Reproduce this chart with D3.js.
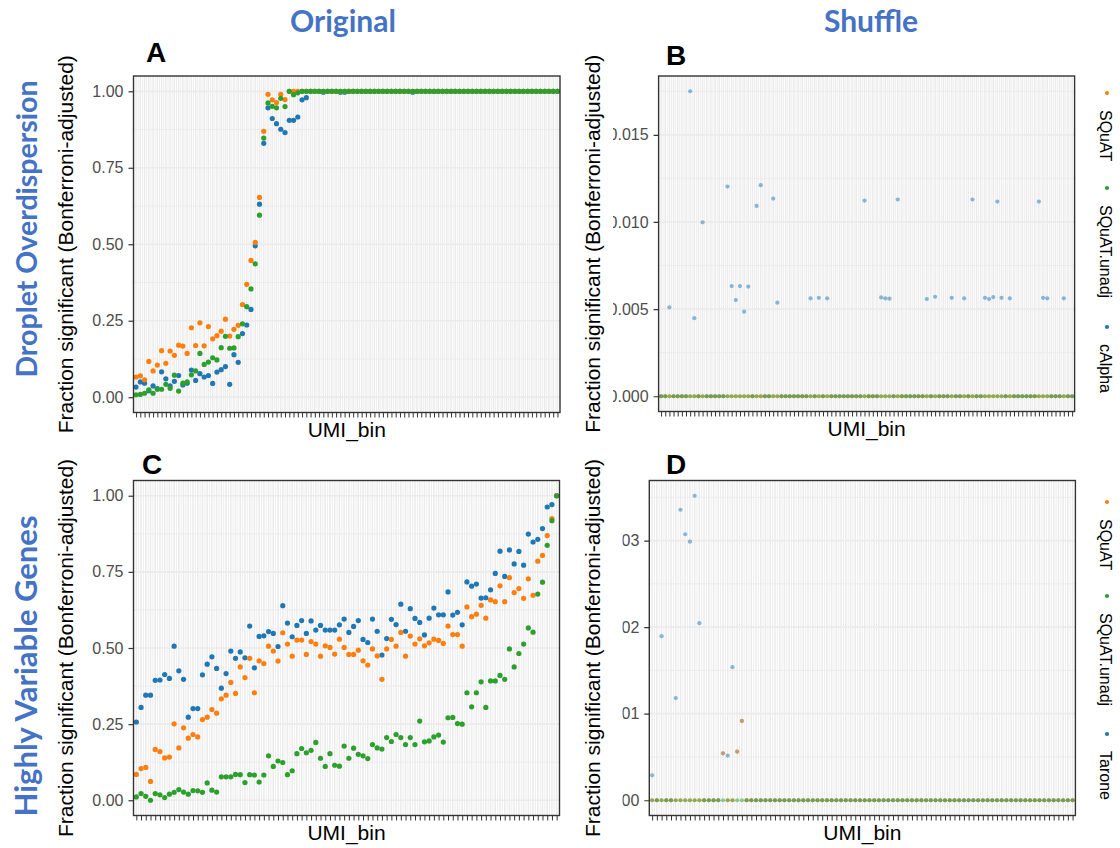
<!DOCTYPE html>
<html>
<head>
<meta charset="utf-8">
<script src="https://cdn.jsdelivr.net/npm/d3@7"></script>
<style>
  body { margin: 0; background: #fff; }
  svg { display: block; }
</style>
</head>
<body>
<svg id="fig" width="1120" height="848"></svg>
<script>
// ---- x categories (UMI bins) ----
const umiBinsDroplet = d3.range(1, 101);   // 100 bins, droplet overdispersion
const umiBinsHVG = d3.range(1, 91);        // 90 bins, highly variable genes

// ---- series names / colours ----
const methodsDroplet = ["SQuAT", "SQuAT.unadj", "cAlpha"];
const methodsHVG = ["SQuAT", "SQuAT.unadj", "Tarone"];
const methodColors = { "SQuAT": "#ff7f0e", "SQuAT.unadj": "#2ca02c", "cAlpha": "#1f77b4", "Tarone": "#1f77b4" };

// ---- tick labels ----
const yTicksFraction = [0, 0.25, 0.5, 0.75, 1];
const yTicksDropletShuffle = [0, 0.005, 0.010, 0.015];
const yTicksHVGShuffle = [0, 0.01, 0.02, 0.03];

// ---- A: droplet overdispersion, original ----
const dropletOrigSQuAT = [
  0.066, 0.070, 0.057, 0.117, 0.086, 0.105, 0.152, 0.111, 0.151, 0.137,
  0.170, 0.167, 0.143, 0.227, 0.169, 0.243, 0.168, 0.231, 0.191, 0.201,
  0.216, 0.255, 0.200, 0.222, 0.235, 0.303, 0.369, 0.447, 0.506, 0.653,
  0.869, 0.990, 0.972, 0.963, 0.990, 0.973, 1, 1, 1, 1,
  1, 1, 1, 1, 1, 1, 1, 1, 1, 1,
  1, 1, 1, 1, 1, 1, 1, 1, 1, 1,
  1, 1, 1, 1, 1, 1, 1, 1, 1, 1,
  1, 1, 1, 1, 1, 1, 1, 1, 1, 1,
  1, 1, 1, 1, 1, 1, 1, 1, 1, 1,
  1, 1, 1, 1, 1, 1, 1, 1, 1, 1
];
const dropletOrigSQuATunadj = [
  0.008, 0.009, 0.013, 0.024, 0.013, 0.026, 0.026, 0.042, 0.029, 0.072,
  0.020, 0.046, 0.050, 0.073, 0.086, 0.143, 0.107, 0.115, 0.129, 0.122,
  0.162, 0.199, 0.160, 0.161, 0.198, 0.240, 0.296, 0.354, 0.436, 0.595,
  0.847, 0.962, 0.951, 0.946, 0.977, 0.950, 1, 0.989, 0.995, 1,
  1, 1, 1, 1, 1, 1, 1, 1, 1, 1,
  1, 1, 1, 1, 1, 1, 1, 1, 1, 1,
  1, 1, 1, 1, 1, 1, 1, 1, 1, 1,
  1, 1, 1, 1, 1, 1, 1, 1, 1, 1,
  1, 1, 1, 1, 1, 1, 1, 1, 1, 1,
  1, 1, 1, 1, 1, 1, 1, 1, 1, 1
];
const dropletOrigCAlpha = [
  0.033, 0.050, 0.046, 0.021, 0.037, 0.028, 0.083, 0.060, 0.037, 0.052,
  0.071, 0.040, 0.046, 0.089, 0.055, 0.077, 0.066, 0.071, 0.045, 0.082,
  0.090, 0.100, 0.042, 0.139, 0.114, 0.208, 0.236, 0.287, 0.495, 0.631,
  0.830, 0.946, 0.911, 0.894, 0.876, 0.865, 0.905, 0.905, 0.916, 0.972,
  0.979, 1, 1, 1, 0.997, 1, 1, 1, 0.997, 0.997,
  1, 1, 1, 1, 1, 1, 1, 1, 1, 1,
  1, 1, 1, 1, 1, 0.997, 1, 1, 1, 1,
  1, 1, 1, 1, 1, 1, 1, 1, 1, 1,
  1, 1, 1, 1, 1, 1, 1, 1, 1, 1,
  1, 1, 1, 1, 1, 1, 1, 1, 1, 1
];

// ---- B: droplet overdispersion, shuffled ----
const dropletShufSQuAT = [
  0, 0, 0, 0, 0, 0, 0, 0, 0, 0,
  0, 0, 0, 0, 0, 0, 0, 0, 0, 0,
  0, 0, 0, 0, 0, 0, 0, 0, 0, 0,
  0, 0, 0, 0, 0, 0, 0, 0, 0, 0,
  0, 0, 0, 0, 0, 0, 0, 0, 0, 0,
  0, 0, 0, 0, 0, 0, 0, 0, 0, 0,
  0, 0, 0, 0, 0, 0, 0, 0, 0, 0,
  0, 0, 0, 0, 0, 0, 0, 0, 0, 0,
  0, 0, 0, 0, 0, 0, 0, 0, 0, 0,
  0, 0, 0, 0, 0, 0, 0, 0, 0, 0
];
const dropletShufSQuATunadj = [
  0, 0, 0, 0, 0, 0, 0, 0, 0, 0,
  0, 0, 0, 0, 0, 0, 0, 0, 0, 0,
  0, 0, 0, 0, 0, 0, 0, 0, 0, 0,
  0, 0, 0, 0, 0, 0, 0, 0, 0, 0,
  0, 0, 0, 0, 0, 0, 0, 0, 0, 0,
  0, 0, 0, 0, 0, 0, 0, 0, 0, 0,
  0, 0, 0, 0, 0, 0, 0, 0, 0, 0,
  0, 0, 0, 0, 0, 0, 0, 0, 0, 0,
  0, 0, 0, 0, 0, 0, 0, 0, 0, 0,
  0, 0, 0, 0, 0, 0, 0, 0, 0, 0
];
const dropletShufCAlpha = [
  0, 0, 0.0051, 0, 0, 0, 0, 0.0175, 0.00448, 0,
  0.00998, 0, 0, 0, 0, 0, 0.01203, 0.00632, 0.00552, 0.00632,
  0.00485, 0.00629, 0, 0.01092, 0.01211, 0, 0, 0.01134, 0.00537, 0,
  0, 0, 0, 0, 0, 0, 0.00562, 0, 0.00565, 0,
  0.00562, 0, 0, 0, 0, 0, 0, 0, 0, 0.01123,
  0, 0, 0, 0.00567, 0.00562, 0.0056, 0, 0.01129, 0, 0,
  0, 0, 0, 0, 0.00558, 0, 0.00571, 0, 0, 0,
  0.00565, 0, 0, 0.00562, 0, 0.01129, 0, 0, 0.00565, 0.00558,
  0.00569, 0.01117, 0.00565, 0, 0.00562, 0, 0, 0, 0, 0,
  0, 0.01117, 0.00565, 0.00562, 0, 0, 0, 0.00562, 0, 0
];

// ---- C: highly variable genes, original ----
const hvgOrigSQuAT = [
  0.085, 0.104, 0.108, 0.062, 0.167, 0.160, 0.139, 0.142, 0.251, 0.172,
  0.238, 0.204, 0.216, 0.208, 0.265, 0.273, 0.298, 0.286, 0.333, 0.345,
  0.387, 0.351, 0.438, 0.403, 0.466, 0.353, 0.458, 0.449, 0.506, 0.490,
  0.457, 0.550, 0.513, 0.473, 0.526, 0.526, 0.479, 0.521, 0.513, 0.473,
  0.507, 0.502, 0.480, 0.529, 0.502, 0.479, 0.479, 0.493, 0.458, 0.444,
  0.497, 0.474, 0.397, 0.497, 0.528, 0.506, 0.551, 0.473, 0.539, 0.513,
  0.530, 0.507, 0.517, 0.529, 0.525, 0.515, 0.572, 0.544, 0.544, 0.506,
  0.635, 0.603, 0.611, 0.640, 0.598, 0.658, 0.652, 0.704, 0.652, 0.731,
  0.682, 0.695, 0.663, 0.727, 0.673, 0.785, 0.804, 0.869, 0.925, 1.000
];
const hvgOrigSQuATunadj = [
  0.011, 0.022, 0.013, 0.000, 0.022, 0.018, 0.009, 0.020, 0.026, 0.035,
  0.027, 0.020, 0.032, 0.031, 0.026, 0.057, 0.033, 0.027, 0.077, 0.077,
  0.077, 0.085, 0.084, 0.058, 0.084, 0.083, 0.060, 0.083, 0.146, 0.111,
  0.129, 0.124, 0.084, 0.097, 0.153, 0.170, 0.156, 0.164, 0.190, 0.138,
  0.111, 0.153, 0.115, 0.112, 0.178, 0.138, 0.171, 0.151, 0.146, 0.137,
  0.183, 0.172, 0.168, 0.206, 0.193, 0.216, 0.206, 0.183, 0.206, 0.183,
  0.260, 0.192, 0.195, 0.208, 0.214, 0.191, 0.271, 0.272, 0.252, 0.250,
  0.353, 0.307, 0.353, 0.389, 0.305, 0.392, 0.392, 0.410, 0.397, 0.497,
  0.438, 0.482, 0.513, 0.566, 0.552, 0.677, 0.716, 0.837, 0.918, 1.000
];
const hvgOrigTarone = [
  0.257, 0.305, 0.345, 0.345, 0.394, 0.395, 0.413, 0.400, 0.506, 0.425,
  0.397, 0.273, 0.301, 0.301, 0.412, 0.447, 0.471, 0.433, 0.368, 0.416,
  0.490, 0.466, 0.487, 0.468, 0.572, 0.435, 0.538, 0.540, 0.554, 0.548,
  0.505, 0.639, 0.582, 0.537, 0.574, 0.590, 0.548, 0.589, 0.559, 0.574,
  0.559, 0.559, 0.559, 0.576, 0.595, 0.551, 0.571, 0.590, 0.528, 0.518,
  0.595, 0.555, 0.477, 0.531, 0.594, 0.577, 0.644, 0.555, 0.629, 0.597,
  0.584, 0.543, 0.598, 0.631, 0.609, 0.609, 0.684, 0.608, 0.617, 0.576,
  0.717, 0.703, 0.710, 0.664, 0.665, 0.691, 0.745, 0.818, 0.735, 0.822,
  0.776, 0.817, 0.772, 0.874, 0.848, 0.857, 0.892, 0.963, 0.971, 1.000
];

// ---- D: highly variable genes, shuffled ----
const hvgShufSQuAT = [
  0, 0, 0, 0, 0, 0, 0, 0, 0, 0,
  0, 0, 0, 0, 0, 0.00542, 0, 0, 0.00562, 0.00916,
  0, 0, 0, 0, 0, 0, 0, 0, 0, 0,
  0, 0, 0, 0, 0, 0, 0, 0, 0, 0,
  0, 0, 0, 0, 0, 0, 0, 0, 0, 0,
  0, 0, 0, 0, 0, 0, 0, 0, 0, 0,
  0, 0, 0, 0, 0, 0, 0, 0, 0, 0,
  0, 0, 0, 0, 0, 0, 0, 0, 0, 0,
  0, 0, 0, 0, 0, 0, 0, 0, 0, 0
];
const hvgShufSQuATunadj = [
  0, 0, 0, 0, 0, 0, 0, 0, 0, 0,
  0, 0, 0, 0, 0, 0, 0, 0, 0, 0,
  0, 0, 0, 0, 0, 0, 0, 0, 0, 0,
  0, 0, 0, 0, 0, 0, 0, 0, 0, 0,
  0, 0, 0, 0, 0, 0, 0, 0, 0, 0,
  0, 0, 0, 0, 0, 0, 0, 0, 0, 0,
  0, 0, 0, 0, 0, 0, 0, 0, 0, 0,
  0, 0, 0, 0, 0, 0, 0, 0, 0, 0,
  0, 0, 0, 0, 0, 0, 0, 0, 0, 0
];
const hvgShufTarone = [
  0.00288, 0, 0.01896, 0, 0, 0.01181, 0.03356, 0.03073, 0.02987, 0.03518,
  0.02046, 0, 0, 0, 0, 0.00542, 0.00516, 0.01538, 0.00562, 0.00916,
  0, 0, 0, 0, 0, 0, 0, 0, 0, 0,
  0, 0, 0, 0, 0, 0, 0, 0, 0, 0,
  0, 0, 0, 0, 0, 0, 0, 0, 0, 0,
  0, 0, 0, 0, 0, 0, 0, 0, 0, 0,
  0, 0, 0, 0, 0, 0, 0, 0, 0, 0,
  0, 0, 0, 0, 0, 0, 0, 0, 0, 0,
  0, 0, 0, 0, 0, 0, 0, 0, 0, 0
];

// ---------------------------------------------------------------
const svg = d3.select("#fig");
svg.append("rect").attr("width", 1120).attr("height", 848).attr("fill", "#fff");

const AXIS_FONT = "'Liberation Sans', Arial, Helvetica, sans-serif";
const HEAD_FONT = "Lato, 'Open Sans', sans-serif";
const HEAD_BLUE = "#4472c4";
const GRID = "#ebebeb";

let clipId = 0;

function drawPanel(p) {
  const g = svg.append("g");
  const x = d3.scalePoint().domain(p.bins).range([p.x0, p.x1]).padding(0.6);
  const y = d3.scaleLinear().domain(p.yDomain).range([p.y1, p.y0]);

  // panel background
  g.append("rect").attr("x", p.x0).attr("y", p.y0)
    .attr("width", p.x1 - p.x0).attr("height", p.y1 - p.y0).attr("fill", "#fff");

  // minor horizontal grid (half way between major ticks)
  const step = p.yTicks[1] - p.yTicks[0];
  const minor = [];
  for (let v = p.yTicks[0] - step / 2; v <= p.yDomain[1]; v += step) {
    if (v >= p.yDomain[0]) minor.push(v);
  }
  g.append("g").selectAll("line").data(minor).join("line")
    .attr("x1", p.x0).attr("x2", p.x1)
    .attr("y1", d => y(d)).attr("y2", d => y(d))
    .attr("stroke", GRID).attr("stroke-width", 0.9);

  // vertical grid: one line per bin, plus a thin line between bins
  const half = x.step() / 2;
  g.append("g").selectAll("line").data(p.bins.slice(0, -1)).join("line")
    .attr("x1", d => x(d) + half).attr("x2", d => x(d) + half)
    .attr("y1", p.y0).attr("y2", p.y1)
    .attr("stroke", GRID).attr("stroke-width", 0.9);
  g.append("g").selectAll("line").data(p.bins).join("line")
    .attr("x1", d => x(d)).attr("x2", d => x(d))
    .attr("y1", p.y0).attr("y2", p.y1)
    .attr("stroke", GRID).attr("stroke-width", 1.5);

  // major horizontal grid
  g.append("g").selectAll("line").data(p.yTicks).join("line")
    .attr("x1", p.x0).attr("x2", p.x1)
    .attr("y1", d => y(d)).attr("y2", d => y(d))
    .attr("stroke", GRID).attr("stroke-width", 1.7);

  // points: blue first, then orange, then green on top
  const order = [2, 0, 1];
  order.forEach(k => {
    const s = p.series[k];
    g.append("g").selectAll("circle").data(s.values).join("circle")
      .attr("cx", (d, i) => x(p.bins[i]))
      .attr("cy", d => y(d))
      .attr("r", p.r)
      .attr("fill", methodColors[s.name])
      .attr("fill-opacity", p.alpha);
  });

  // panel border
  g.append("rect").attr("x", p.x0).attr("y", p.y0)
    .attr("width", p.x1 - p.x0).attr("height", p.y1 - p.y0)
    .attr("fill", "none").attr("stroke", "#333").attr("stroke-width", 1.4);

  // y axis
  const yAxis = d3.axisLeft(y).tickValues(p.yTicks)
    .tickFormat(d3.format(p.fmt)).tickSize(5).tickPadding(5);
  const ya = g.append("g").attr("transform", `translate(${p.x0},0)`).call(yAxis);
  ya.select(".domain").remove();
  ya.selectAll(".tick line").attr("stroke", "#333").attr("stroke-width", 1.2);
  ya.selectAll(".tick text").attr("fill", "#4d4d4d")
    .style("font-family", AXIS_FONT).style("font-size", "16px");
  if (p.clipX !== undefined) {
    const id = "clipTicks" + (clipId++);
    svg.append("clipPath").attr("id", id).append("rect")
      .attr("x", p.clipX - p.x0).attr("y", p.y0 - 20)
      .attr("width", p.x0 - p.clipX + 2).attr("height", p.y1 - p.y0 + 40);
    ya.attr("clip-path", `url(#${id})`);
  }

  // x axis: one tick per bin, no labels
  const xAxis = d3.axisBottom(x).tickFormat("").tickSize(5);
  const xa = g.append("g").attr("transform", `translate(0,${p.y1})`).call(xAxis);
  xa.select(".domain").remove();
  xa.selectAll(".tick line").attr("stroke", "#333").attr("stroke-width", 1);

  // axis titles
  g.append("text").text("UMI_bin")
    .attr("x", (p.x0 + p.x1) / 2).attr("y", p.y1 + 24)
    .attr("text-anchor", "middle")
    .style("font-family", AXIS_FONT).style("font-size", "21px").attr("fill", "#000");

  g.append("text").text("Fraction significant (Bonferroni-adjusted)")
    .attr("transform", `translate(${p.yTitleX},${(p.y0 + p.y1) / 2}) rotate(-90)`)
    .attr("text-anchor", "middle")
    .style("font-family", AXIS_FONT).style("font-size", "21px").attr("fill", "#000");

  // panel letter
  g.append("text").text(p.letter)
    .attr("x", p.letterX).attr("y", p.letterY)
    .style("font-family", AXIS_FONT).style("font-size", "28px")
    .style("font-weight", "bold").attr("fill", "#000");

  // legend (vertical, rotated labels)
  if (p.legendKeys) {
    const lg = g.append("g");
    p.series.forEach((s, k) => {
      const ky = p.legendKeys[k];
      lg.append("circle").attr("cx", 1107).attr("cy", ky).attr("r", 2.1)
        .attr("fill", methodColors[s.name]);
      lg.append("text").text(s.name)
        .attr("transform", `translate(1100,${ky + 17}) rotate(90)`)
        .style("font-family", AXIS_FONT).style("font-size", "16px").attr("fill", "#000");
    });
  }
}

drawPanel({
  letter: "A", letterX: 146, letterY: 62,
  bins: umiBinsDroplet, x0: 133.5, x1: 560, y0: 76, y1: 412.5,
  yDomain: [-0.05, 1.05], yTicks: yTicksFraction, fmt: ".2f",
  yTitleX: 73, r: 2.6, alpha: 1,
  series: [
    { name: methodsDroplet[0], values: dropletOrigSQuAT },
    { name: methodsDroplet[1], values: dropletOrigSQuATunadj },
    { name: methodsDroplet[2], values: dropletOrigCAlpha }
  ]
});

drawPanel({
  letter: "B", letterX: 666, letterY: 65,
  bins: umiBinsDroplet, x0: 658.6, x1: 1074.6, y0: 76, y1: 411.5,
  yDomain: [-0.000875, 0.018375], yTicks: yTicksDropletShuffle, fmt: ".3f",
  yTitleX: 600, r: 2.1, alpha: 0.5, clipX: 613,
  legendKeys: [93, 188, 327],
  series: [
    { name: methodsDroplet[0], values: dropletShufSQuAT },
    { name: methodsDroplet[1], values: dropletShufSQuATunadj },
    { name: methodsDroplet[2], values: dropletShufCAlpha }
  ]
});

drawPanel({
  letter: "C", letterX: 142, letterY: 474,
  bins: umiBinsHVG, x0: 133.5, x1: 559.5, y0: 480.5, y1: 815.5,
  yDomain: [-0.05, 1.05], yTicks: yTicksFraction, fmt: ".2f",
  yTitleX: 73, r: 2.6, alpha: 1,
  series: [
    { name: methodsHVG[0], values: hvgOrigSQuAT },
    { name: methodsHVG[1], values: hvgOrigSQuATunadj },
    { name: methodsHVG[2], values: hvgOrigTarone }
  ]
});

drawPanel({
  letter: "D", letterX: 666, letterY: 474,
  bins: umiBinsHVG, x0: 649.3, x1: 1075.4, y0: 480.5, y1: 815.5,
  yDomain: [-0.00176, 0.03694], yTicks: yTicksHVGShuffle, fmt: ".2f",
  yTitleX: 600, r: 2.1, alpha: 0.5, clipX: 622.5,
  legendKeys: [502, 596, 734],
  series: [
    { name: methodsHVG[0], values: hvgShufSQuAT },
    { name: methodsHVG[1], values: hvgShufSQuATunadj },
    { name: methodsHVG[2], values: hvgShufTarone }
  ]
});

// column and row headers
const headers = [
  { text: "Original", x: 343, y: 32, rot: 0, size: 30 },
  { text: "Shuffle", x: 871, y: 32, rot: 0, size: 30 },
  { text: "Droplet Overdispersion", x: 37, y: 229, rot: -90, size: 28.5 },
  { text: "Highly Variable Genes", x: 37, y: 666, rot: -90, size: 31 }
];
svg.append("g").selectAll("text").data(headers).join("text")
  .text(d => d.text)
  .attr("transform", d => `translate(${d.x},${d.y}) rotate(${d.rot})`)
  .attr("text-anchor", "middle")
  .style("font-family", HEAD_FONT).style("font-size", d => d.size + "px")
  .style("font-weight", "bold").attr("fill", HEAD_BLUE);
</script>
</body>
</html>
